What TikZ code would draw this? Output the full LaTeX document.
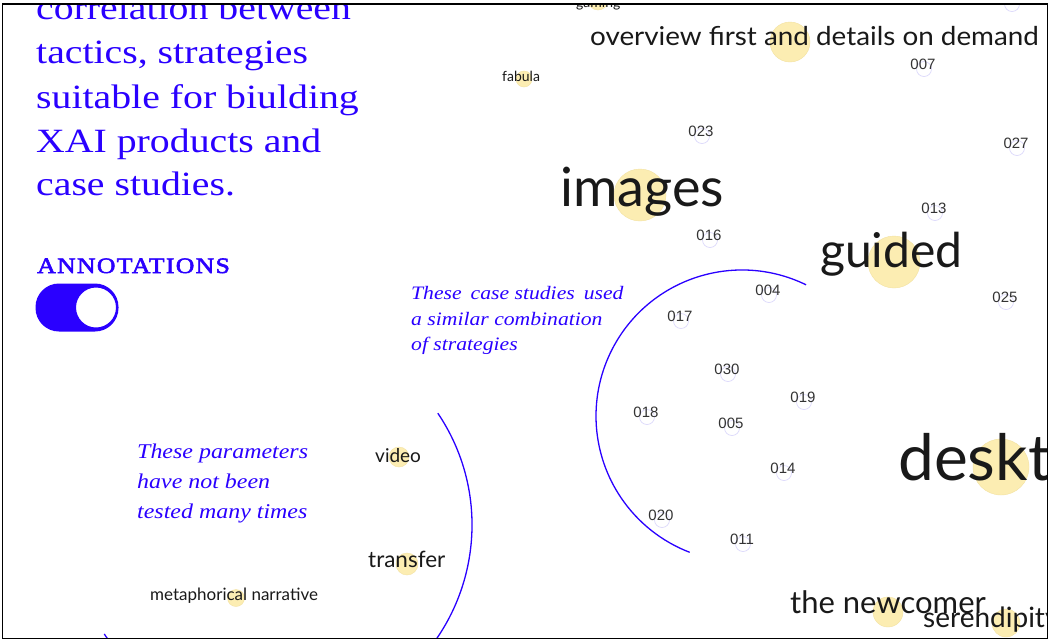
\documentclass[tikz,border=0pt]{standalone}
\usepackage{fontspec}
\newfontfamily\headserif[FakeStretch=1.17]{Liberation Serif}
\newfontfamily\capsserif[FakeStretch=1.17, LetterSpace=6, FakeBold=2.5]{Liberation Serif}
\newfontfamily\noteserif[FakeStretch=1.14]{Liberation Serif}
\newfontfamily\tagsans{Lato}
\newfontfamily\widesans[FakeStretch=1.07]{Lato}
\newfontfamily\numsans{Liberation Sans}
\definecolor{accent}{HTML}{2A00FF}
\definecolor{hilite}{HTML}{FCEDB2}
\definecolor{hiliteedge}{HTML}{F3E2A2}
\definecolor{ringedge}{HTML}{DCD9FB}
\definecolor{inkgray}{HTML}{333333}
\tikzset{
  frameline/.style={draw=black, line width=1.4pt},
  headline/.style={anchor=base west, inner sep=0pt, text=accent,
    font=\headserif\fontsize{34}{44}\selectfont},
  noteline/.style={anchor=base west, inner sep=0pt, text=accent,
    font=\noteserif\itshape\fontsize{#1}{#1}\selectfont},
  bracket/.style={draw=accent, line width=1.3pt},
  blob/.style={circle, fill=hilite, draw=hiliteedge, line width=0.4pt,
    inner sep=0pt, minimum size=#1},
  tag/.style={anchor=base west, inner sep=0pt, text=black!90,
    font=\tagsans\fontsize{#1}{#1}\selectfont},
  ring/.style={circle, fill=white, draw=ringedge, line width=0.7pt,
    inner sep=0pt, minimum size=15pt},
  num/.style={inner sep=0pt, text=inkgray, font=\numsans\fontsize{15}{15}\selectfont},
}
\begin{document}
\begin{tikzpicture}[x=1pt, y=-1pt]
\useasboundingbox (0,0) rectangle (1057,641);
\fill[white] (0,0) rectangle (1057,641);

\begin{scope}
\clip (2.5,4) rectangle (1047.5,638.5);

% heading
\node[headline] (h1) at (36,19.5) {correlation between};
\node[headline] (h2) at (36,63.5) {tactics, strategies};
\node[headline] (h3) at (36,108) {suitable for biulding};
\node[headline] (h4) at (36,152) {XAI products and};
\node[headline] (h5) at (36,195.5) {case studies.};

% annotations switch
\node[anchor=base west, inner sep=0pt, text=accent,
  font=\capsserif\fontsize{22}{22}\selectfont] (annot) at (37,273) {ANNOTATIONS};
\fill[accent, rounded corners=23.5pt] (35.5,283.5) rectangle (118.5,331.5);
\node[circle, fill=white, draw=accent, line width=2pt, minimum size=42pt, inner sep=0pt]
  (knob) at (96,307.5) {};

% notes
\node[noteline=19] (c1) at (411,299) {These\hspace{9pt}case studies\hspace{9pt}used};
\node[noteline=19] (c2) at (411,325) {a similar combination};
\node[noteline=19] (c3) at (411,350) {of strategies};
\node[noteline=21] (p1) at (137,458) {These parameters};
\node[noteline=21] (p2) at (137,488) {have not been};
\node[noteline=21] (p3) at (137,518) {tested many times};

% brackets
\draw[bracket] (742,416) ++(-64:146) arc[start angle=-64, end angle=-249, radius=146];
\draw[bracket] (272,525) ++(-34:200) arc[start angle=-34, end angle=147, radius=200];

% highlighted terms
\node[blob=20pt] (bgaming) at (598,0) {};
\node[tag=14] (gaming) at (576,7) {gaming};
\node[blob=40pt] (bover) at (790,42) {};
\node[anchor=base west, inner sep=0pt, text=black!90,
  font=\widesans\fontsize{26}{26}\selectfont] (over) at (590,45) {overview first and details on demand};
\node[blob=16pt] (bfabula) at (524,79) {};
\node[tag=14] (fabula) at (502,81) {fabula};
\node[blob=52pt] (bimages) at (640,195) {};
\node[tag=54] (images) at (560,206) {images};
\node[blob=52pt] (bguided) at (894,262) {};
\node[tag=48] (guided) at (820,267) {guided};
\node[blob=56pt] (bdesk) at (1001,467) {};
\node[tag=64] (desk) at (898,480) {desktop};
\node[blob=20pt] (bvideo) at (399,457) {};
\node[tag=19] (video) at (375,462) {video};
\node[blob=22pt] (btransfer) at (407,564) {};
\node[tag=22.5] (transfer) at (368,567) {transfer};
\node[blob=17pt] (bmeta) at (236,598) {};
\node[tag=17] (meta) at (150,600) {metaphorical narrative};
\node[blob=30pt] (bnew) at (888,612) {};
\node[tag=31] (new) at (790,613) {the newcomer};
\node[blob=28pt] (bser) at (1006,623) {};
\node[tag=28] (ser) at (923,627) {serendipity};

% case study numbers
\foreach \n/\x/\y in {008/1011/-1, 007/923/64, 023/701/131, 027/1016/143,
    013/934/208, 016/709/235, 004/768/290, 025/1005/297, 017/680/316,
    030/727/369, 019/803/397, 018/646/412, 005/731/423, 014/783/468,
    020/661/515, 011/742/539} {
  \node[ring] (r\n) at (\x+1,\y+5) {};
  \node[num] (n\n) at (\x,\y) {\n};
}
\end{scope}

\draw[frameline] (2.5,4) rectangle (1047.5,638.5);
\end{tikzpicture}
\end{document}
